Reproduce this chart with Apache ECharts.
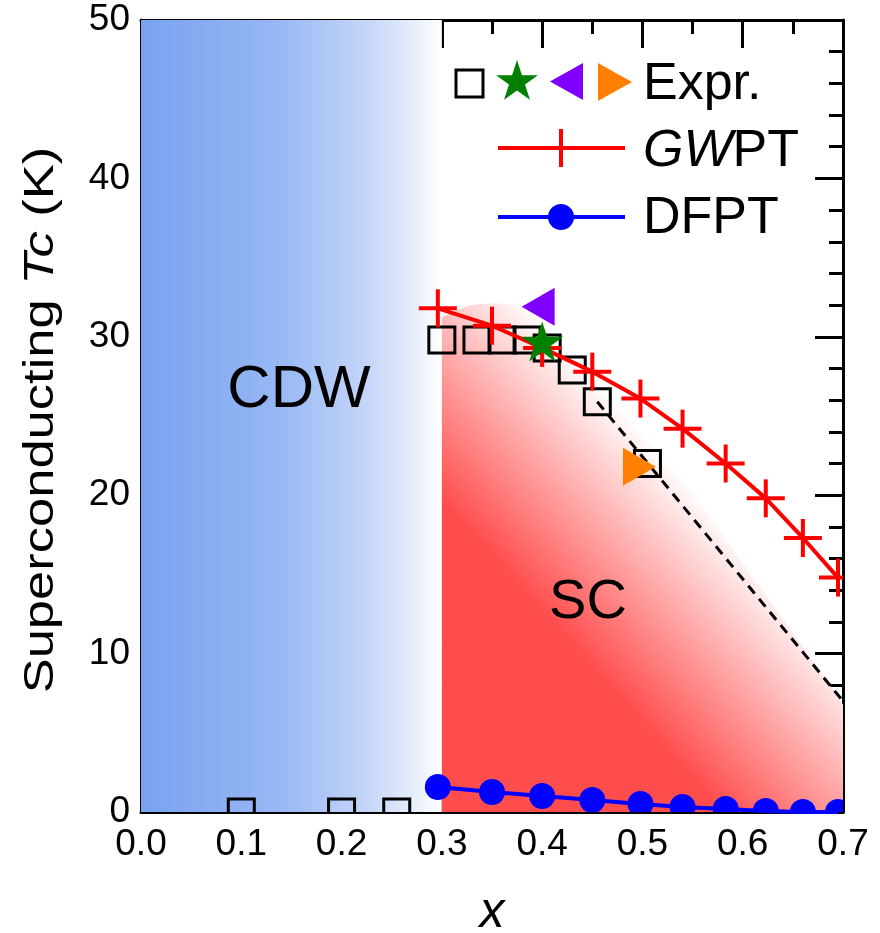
<!DOCTYPE html>
<html>
<head>
<meta charset="utf-8">
<script src="https://cdn.jsdelivr.net/npm/echarts@6/dist/echarts.min.js"></script>
<style>
  html, body { margin: 0; padding: 0; background: #fff; }
  #main { width: 880px; height: 933px; }
</style>
</head>
<body>
<div id="main"></div>
<script>
// Doping x vs superconducting Tc (K)

// Experimental Tc (open squares)
const exprX  = [0.10, 0.20, 0.255, 0.30, 0.335, 0.36, 0.385, 0.405, 0.43, 0.455, 0.505];
const exprTc = [0.0, 0.0, 0.0, 29.8, 29.8, 29.8, 29.8, 29.3, 27.9, 25.9, 22.0];
// Other experimental points: star, left triangle, right triangle
const starX = [0.40];   const starTc = [29.7];
const leftX = [0.396];  const leftTc = [31.9];
const rightX = [0.497]; const rightTc = [21.8];

// GWPT prediction
const gwX  = [0.296, 0.35, 0.40, 0.45, 0.498, 0.54, 0.583, 0.623, 0.66, 0.695];
const gwTc = [31.8, 30.7, 29.3, 27.8, 26.1, 24.2, 22.0, 19.8, 17.3, 14.8];
// DFPT prediction
const dfX  = [0.296, 0.35, 0.40, 0.45, 0.498, 0.54, 0.583, 0.623, 0.66, 0.695];
const dfTc = [1.58, 1.26, 1.01, 0.76, 0.51, 0.32, 0.19, 0.06, 0.0, 0.0];

// Dashed guide through the high-x experimental points
const guideX  = [0.455, 0.70];
const guideTc = [25.9, 7.0];

// Phase regions
const cdwX   = [0.0, 0.30];
const cdwTop = [50, 50];
const scX   = [0.30, 0.33, 0.36, 0.39, 0.42, 0.45, 0.48, 0.51, 0.55, 0.60, 0.65, 0.70];
const scTop = [31.2, 32.0, 32.1, 31.6, 30.3, 28.3, 26.3, 23.8, 20.2, 15.7, 11.3, 6.8];

const FONT = '"Liberation Sans", Arial, Helvetica, sans-serif';
const zip = (xs, ys) => xs.map((x, i) => [x, ys[i]]);

function starPath(cx, cy, R, r) {
  const pts = [];
  for (let k = 0; k < 10; k++) {
    const a = -Math.PI / 2 + k * Math.PI / 5;
    const rad = k % 2 === 0 ? R : r;
    pts.push([cx + rad * Math.cos(a), cy + rad * Math.sin(a)]);
  }
  return pts;
}
const starSymbol = 'path://' + starPath(50, 50, 50, 19.1)
  .map((p, i) => (i === 0 ? 'M' : 'L') + p[0].toFixed(2) + ',' + p[1].toFixed(2)).join('') + 'Z';

function squareItem(params, api) {
  const p = api.coord([api.value(0), api.value(1)]);
  const s = 26;
  return {
    type: 'rect',
    shape: { x: p[0] - s / 2, y: p[1] - s / 2, width: s, height: s },
    style: { fill: 'rgba(0,0,0,0)', stroke: '#000', lineWidth: 3 }
  };
}
function plusItem(params, api) {
  const p = api.coord([api.value(0), api.value(1)]);
  const h = 19;
  const st = { stroke: '#ff0000', lineWidth: 4 };
  return {
    type: 'group',
    children: [
      { type: 'line', shape: { x1: p[0] - h, y1: p[1], x2: p[0] + h, y2: p[1] }, style: st },
      { type: 'line', shape: { x1: p[0], y1: p[1] - h, x2: p[0], y2: p[1] + h }, style: st }
    ]
  };
}
function circleItem(params, api) {
  const p = api.coord([api.value(0), api.value(1)]);
  return { type: 'circle', shape: { cx: p[0], cy: p[1], r: 13 }, style: { fill: '#0000ff' } };
}

const axisBase = {
  type: 'value',
  axisLine: { show: true, onZero: false, lineStyle: { color: '#000', width: 3 } },
  axisTick: { show: true, inside: true, length: 28, lineStyle: { color: '#000', width: 3 } },
  splitLine: { show: false },
  minorSplitLine: { show: false }
};
const labelStyle = { color: '#000', fontSize: 37, fontFamily: FONT };

const chart = echarts.init(document.getElementById('main'), null, { renderer: 'canvas' });

const option = {
  animation: false,
  backgroundColor: '#ffffff',
  grid: { left: 141, right: 37, top: 20, bottom: 121, containLabel: false, outerBoundsMode: 'none' },
  xAxis: [
    Object.assign({}, axisBase, {
      position: 'bottom', min: 0, max: 0.7, interval: 0.1,
      minorTick: { show: true, splitNumber: 2, length: 14, lineStyle: { color: '#000', width: 3 } },
      axisLabel: Object.assign({ margin: 14, formatter: v => v.toFixed(1) }, labelStyle),
      name: 'x', nameLocation: 'middle', nameGap: 76,
      nameTextStyle: { color: '#000', fontSize: 50, fontStyle: 'italic', fontFamily: FONT }
    }),
    Object.assign({}, axisBase, {
      position: 'top', min: 0, max: 0.7, interval: 0.1,
      minorTick: { show: true, splitNumber: 2, length: 14, lineStyle: { color: '#000', width: 3 } },
      axisLabel: { show: false }
    })
  ],
  yAxis: [
    Object.assign({}, axisBase, {
      position: 'left', min: 0, max: 50, interval: 10,
      minorTick: { show: true, splitNumber: 5, length: 14, lineStyle: { color: '#000', width: 3 } },
      axisLabel: Object.assign({ margin: 11 }, labelStyle)
    }),
    Object.assign({}, axisBase, {
      position: 'right', min: 0, max: 50, interval: 10,
      minorTick: { show: true, splitNumber: 5, length: 14, lineStyle: { color: '#000', width: 3 } },
      axisLabel: { show: false }
    })
  ],
  series: [
    {
      name: 'CDW', type: 'line', data: zip(cdwX, cdwTop), symbol: 'none', silent: true, z: 1,
      lineStyle: { width: 0 },
      areaStyle: {
        opacity: 1,
        color: {
          type: 'linear', x: 0, y: 0, x2: 1, y2: 0,
          colorStops: [
            { offset: 0, color: 'rgb(122,162,240)' },
            { offset: 0.45, color: 'rgb(150,183,243)' },
            { offset: 0.75, color: 'rgb(196,213,248)' },
            { offset: 0.93, color: 'rgb(236,242,253)' },
            { offset: 1, color: '#ffffff' }
          ]
        }
      }
    },
    {
      name: 'SC', type: 'line', data: zip(scX, scTop), symbol: 'none', silent: true, z: 1,
      smooth: 0.3,
      lineStyle: { width: 0 },
      areaStyle: {
        opacity: 1,
        color: {
          type: 'linear', x: 596, y: 672, x2: 742, y2: 541, global: true,
          colorStops: [
            { offset: 0, color: '#ff4d4d' },
            { offset: 1, color: '#ffffff' }
          ]
        }
      }
    },
    {
      name: 'guide', type: 'line', data: zip(guideX, guideTc), symbol: 'none', z: 2, silent: true,
      lineStyle: { color: '#000', width: 3, type: [10, 7] }
    },
    {
      name: 'Expr.', type: 'custom', data: zip(exprX, exprTc), renderItem: squareItem,
      encode: { x: 0, y: 1 }, clip: true, z: 3, silent: true
    },
    {
      name: 'GWPT line', type: 'line', data: zip(gwX, gwTc), symbol: 'none', z: 4, silent: true,
      lineStyle: { color: '#ff0000', width: 4 }
    },
    {
      name: 'GWPT', type: 'custom', data: zip(gwX, gwTc), renderItem: plusItem,
      encode: { x: 0, y: 1 }, clip: true, z: 4, silent: true
    },
    {
      name: 'DFPT line', type: 'line', data: zip(dfX, dfTc), symbol: 'none', z: 4, silent: true,
      lineStyle: { color: '#0000ff', width: 4 }
    },
    {
      name: 'DFPT', type: 'custom', data: zip(dfX, dfTc), renderItem: circleItem,
      encode: { x: 0, y: 1 }, clip: true, z: 4, silent: true
    },
    {
      name: 'star', type: 'scatter', data: zip(starX, starTc), symbol: starSymbol,
      symbolSize: [42, 40], itemStyle: { color: '#008000', opacity: 1 }, z: 5, silent: true
    },
    {
      name: 'left', type: 'scatter', data: zip(leftX, leftTc), symbol: 'triangle',
      symbolSize: [38, 33], symbolRotate: 90, itemStyle: { color: '#8000ff', opacity: 1 }, z: 5, silent: true
    },
    {
      name: 'right', type: 'scatter', data: zip(rightX, rightTc), symbol: 'triangle',
      symbolSize: [38, 33], symbolRotate: -90, itemStyle: { color: '#ff8000', opacity: 1 }, z: 5, silent: true
    }
  ],
  graphic: [
    // y axis title (stretched along its reading direction)
    {
      type: 'text', x: 41, y: 420, rotation: Math.PI / 2, scaleX: 1.25, z: 100,
      style: {
        text: '{n|Superconducting }{i|Tc}{n| (K)}',
        align: 'center', verticalAlign: 'middle', fill: '#000',
        rich: {
          n: { fontSize: 42, fontFamily: FONT, fill: '#000' },
          i: { fontSize: 42, fontFamily: FONT, fontStyle: 'italic', fill: '#000' }
        }
      }
    },
    // region labels
    { type: 'text', x: 299, y: 390, z: 100,
      style: { text: 'CDW', fontSize: 60, fontFamily: FONT, fill: '#000', align: 'center', verticalAlign: 'middle' } },
    { type: 'text', x: 588, y: 603, z: 100,
      style: { text: 'SC', fontSize: 56, fontFamily: FONT, fill: '#000', align: 'center', verticalAlign: 'middle' } },
    // legend row 1: experiments
    { type: 'rect', z: 100, shape: { x: 456, y: 70, width: 27, height: 27 },
      style: { fill: 'rgba(0,0,0,0)', stroke: '#000', lineWidth: 3 } },
    { type: 'polygon', z: 100, shape: { points: starPath(517, 82, 22, 8.4) }, style: { fill: '#008000' } },
    { type: 'polygon', z: 100, shape: { points: [[550, 81.5], [583, 63], [583, 100]] }, style: { fill: '#8000ff' } },
    { type: 'polygon', z: 100, shape: { points: [[598, 63], [598, 101], [632, 82]] }, style: { fill: '#ff8000' } },
    { type: 'text', x: 643, y: 85, z: 100,
      style: { text: 'Expr.', fontSize: 52, fontFamily: FONT, fill: '#000', align: 'left', verticalAlign: 'middle' } },
    // legend row 2: GWPT
    { type: 'line', z: 100, shape: { x1: 498, y1: 148, x2: 625, y2: 148 }, style: { stroke: '#ff0000', lineWidth: 4 } },
    { type: 'line', z: 100, shape: { x1: 542, y1: 148, x2: 580, y2: 148 }, style: { stroke: '#ff0000', lineWidth: 4 } },
    { type: 'line', z: 100, shape: { x1: 561, y1: 129, x2: 561, y2: 167 }, style: { stroke: '#ff0000', lineWidth: 4 } },
    { type: 'text', x: 643, y: 152, z: 100,
      style: {
        text: '{i|GW}{n|PT}', align: 'left', verticalAlign: 'middle', fill: '#000',
        rich: {
          i: { fontSize: 52, fontFamily: FONT, fontStyle: 'italic', fill: '#000' },
          n: { fontSize: 52, fontFamily: FONT, fill: '#000' }
        }
      } },
    // legend row 3: DFPT
    { type: 'line', z: 100, shape: { x1: 498, y1: 217, x2: 625, y2: 217 }, style: { stroke: '#0000ff', lineWidth: 4 } },
    { type: 'circle', z: 100, shape: { cx: 561, cy: 217, r: 13 }, style: { fill: '#0000ff' } },
    { type: 'text', x: 643, y: 219, z: 100,
      style: { text: 'DFPT', fontSize: 52, fontFamily: FONT, fill: '#000', align: 'left', verticalAlign: 'middle' } }
  ]
};

chart.setOption(option);
</script>
</body>
</html>
